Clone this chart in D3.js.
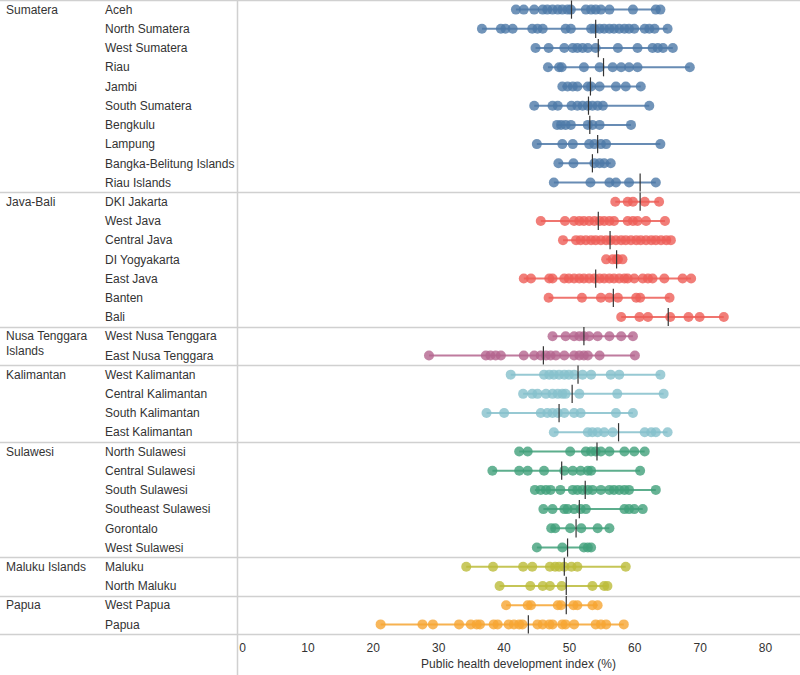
<!DOCTYPE html>
<html>
<head>
<meta charset="utf-8">
<script src="https://cdn.jsdelivr.net/npm/d3@7"></script>
<style>
  body { margin: 0; background: #fff; }
  svg { display: block; font-family: "Liberation Sans", Arial, sans-serif; }
</style>
</head>
<body>
<svg id="chart" width="800" height="675"></svg>
<script>
const regions = ["Sumatera", "Java-Bali", "Nusa Tenggara Islands", "Kalimantan", "Sulawesi", "Maluku Islands", "Papua"];
const regionColors = ["#4e79a7", "#ed5e57", "#b4658e", "#86c0cc", "#41a07a", "#bcbc3a", "#f6a532"];

const provinces = [
  "Aceh", "North Sumatera", "West Sumatera", "Riau", "Jambi", "South Sumatera", "Bengkulu", "Lampung", "Bangka-Belitung Islands", "Riau Islands",
  "DKI Jakarta", "West Java", "Central Java", "DI Yogyakarta", "East Java", "Banten", "Bali",
  "West Nusa Tenggara", "East Nusa Tenggara",
  "West Kalimantan", "Central Kalimantan", "South Kalimantan", "East Kalimantan",
  "North Sulawesi", "Central Sulawesi", "South Sulawesi", "Southeast Sulawesi", "Gorontalo", "West Sulawesi",
  "Maluku", "North Maluku",
  "West  Papua", "Papua"
];
const provinceRegion = [
  0,0,0,0,0,0,0,0,0,0,
  1,1,1,1,1,1,1,
  2,2,
  3,3,3,3,
  4,4,4,4,4,4,
  5,5,
  6,6
];

const districtValues = [
  [41.9, 43.1, 44.7, 46.0, 46.7, 47.5, 48.3, 49.0, 49.8, 50.3, 52.6, 53.4, 54.1, 54.9, 56.2, 59.8, 63.3, 64.0],
  [36.7, 39.6, 40.3, 41.4, 44.4, 45.2, 46.0, 49.5, 50.3, 53.4, 53.9, 54.7, 55.4, 56.2, 56.9, 57.7, 58.5, 59.2, 60.0, 61.6, 62.3, 63.1, 65.1],
  [44.9, 46.9, 49.3, 50.6, 51.3, 52.1, 52.9, 54.1, 57.5, 60.5, 62.8, 63.6, 64.4, 65.9],
  [46.8, 48.5, 48.9, 52.3, 54.7, 56.7, 58.0, 59.2, 60.5, 68.5],
  [49.0, 49.8, 50.6, 51.3, 52.9, 53.4, 54.7, 57.2, 58.7, 61.0],
  [44.7, 47.5, 48.3, 50.4, 51.3, 52.1, 52.9, 53.6, 54.4, 55.2, 62.3],
  [48.2, 48.8, 49.5, 50.3, 52.9, 53.6, 54.7, 59.5],
  [45.1, 49.0, 50.6, 53.1, 53.9, 54.9, 55.7, 64.0],
  [48.4, 50.7, 53.9, 54.7, 55.4, 56.4],
  [47.7, 53.3, 56.2, 57.2, 59.2, 63.3],
  [57.1, 59.0, 59.8, 61.6, 63.8],
  [45.7, 49.4, 50.8, 51.6, 52.3, 53.1, 53.9, 54.7, 55.4, 56.2, 56.9, 59.0, 59.8, 60.5, 61.8, 64.7],
  [49.1, 51.1, 51.8, 52.6, 53.4, 54.1, 54.9, 55.7, 56.4, 57.2, 58.0, 58.7, 59.5, 60.3, 61.0, 61.8, 62.6, 63.3, 64.1, 64.9, 65.6],
  [55.7, 56.7, 57.3, 57.5, 58.2],
  [43.1, 44.2, 47.0, 47.5, 49.3, 50.0, 50.8, 51.6, 52.3, 53.1, 53.9, 54.7, 55.4, 56.2, 56.9, 57.7, 58.5, 59.0, 60.0, 61.3, 62.1, 62.8, 64.6, 67.4, 68.7],
  [46.9, 52.0, 54.9, 56.2, 57.5, 60.3, 60.9, 65.4],
  [58.0, 60.8, 62.1, 65.5, 68.3, 70.0, 73.7],
  [47.5, 49.5, 50.8, 51.6, 52.3, 53.1, 54.4, 56.2, 58.0, 59.8],
  [28.6, 37.3, 38.0, 38.8, 39.6, 43.1, 44.7, 45.7, 46.5, 47.2, 48.0, 49.3, 50.8, 51.6, 52.3, 52.9, 54.7, 60.1],
  [41.1, 46.2, 47.0, 47.7, 48.5, 49.3, 50.0, 50.8, 52.1, 53.4, 56.4, 57.7, 64.0],
  [43.0, 44.4, 45.2, 46.5, 47.5, 48.3, 49.0, 49.5, 51.6, 57.4, 64.5],
  [37.4, 40.1, 45.7, 46.7, 47.5, 48.3, 49.3, 50.8, 51.8, 57.2, 59.8],
  [47.7, 52.9, 53.6, 54.4, 55.4, 56.7, 61.6, 62.6, 63.3, 65.1],
  [42.4, 43.7, 50.2, 52.6, 53.4, 54.1, 54.9, 56.2, 58.5, 60.0, 61.6],
  [38.3, 42.4, 43.7, 46.2, 49.3, 50.6, 51.8, 52.9, 53.4, 60.9],
  [44.8, 45.7, 46.5, 47.2, 48.7, 50.6, 51.3, 52.1, 52.9, 53.6, 54.9, 56.2, 56.9, 57.7, 58.5, 59.2, 63.3],
  [46.1, 47.5, 49.3, 49.8, 50.8, 51.8, 52.6, 58.5, 59.2, 60.0, 61.3],
  [47.3, 47.9, 50.2, 51.9, 54.4, 56.2],
  [45.1, 49.0, 52.3, 52.9, 53.4],
  [34.3, 38.4, 43.0, 44.4, 47.1, 47.9, 48.5, 49.3, 50.4, 51.3, 58.7],
  [39.4, 44.1, 46.0, 47.1, 48.9, 53.6, 55.4, 55.9],
  [40.4, 43.7, 44.2, 48.3, 48.8, 50.7, 51.3, 53.6, 54.4],
  [21.2, 27.6, 29.2, 33.2, 35.0, 35.9, 36.4, 38.5, 39.1, 40.8, 41.6, 42.4, 42.9, 45.2, 46.0, 47.0, 47.5, 49.0, 49.5, 50.8, 54.1, 54.9, 55.7, 58.4]
];

const medianValues = [
  50.4, 54.1, 54.5, 55.3, 53.3, 53.0, 53.2, 54.4, 53.6, 60.9,
  60.9, 54.5, 56.3, 57.3, 54.1, 56.8, 65.2,
  52.3, 46.1,
  51.4, 50.5, 48.5, 57.6,
  54.3, 48.9, 52.5, 51.6, 51.1, 49.8,
  49.3, 49.6,
  49.6, 43.8
];

const xTicks = [0, 10, 20, 30, 40, 50, 60, 70, 80];
const xTitle = "Public health development index (%)";

const svg = d3.select("#chart");
const W = 800, H = 675;
const plotLeft = 237;
const gridColor = "#d0d0d0";
const textColor = "#333";

const x = d3.scaleLinear().domain([0, 80]).range([242, 765]);
const y = d3.scaleBand().domain(d3.range(provinces.length)).range([0, 634]).padding(0);
const bw = y.bandwidth();

const regionStart = regions.map((r, ri) => provinceRegion.indexOf(ri));
const regionEnd = regions.map((r, ri) => provinceRegion.lastIndexOf(ri));

// horizontal separators
const sepYs = [0].concat(regionEnd.map(e => y(e) + bw));
svg.append("g").selectAll("line").data(sepYs).join("line")
  .attr("x1", 0).attr("x2", W)
  .attr("y1", d => Math.round(d) + 0.5).attr("y2", d => Math.round(d) + 0.5)
  .attr("stroke", gridColor).attr("stroke-width", 1.5);

// vertical divider
svg.append("line")
  .attr("x1", plotLeft + 0.5).attr("x2", plotLeft + 0.5)
  .attr("y1", 0).attr("y2", H)
  .attr("stroke", gridColor).attr("stroke-width", 1.5);

// region labels
regions.forEach((r, ri) => {
  const y0 = y(regionStart[ri]) + bw / 2;
  const t = svg.append("text")
    .attr("x", 6).attr("y", y0)
    .attr("dy", "0.35em")
    .attr("font-size", 12).attr("fill", textColor);
  if (r === "Nusa Tenggara Islands") {
    t.append("tspan").attr("x", 6).text("Nusa Tenggara");
    t.append("tspan").attr("x", 6).attr("dy", "1.2em").text("Islands");
  } else {
    t.text(r);
  }
});

// province labels
svg.append("g").selectAll("text").data(provinces).join("text")
  .attr("x", 105)
  .attr("y", (d, i) => y(i) + bw / 2)
  .attr("dy", "0.35em")
  .attr("font-size", 12).attr("fill", textColor)
  .text(d => d);

const rows = provinces.map((p, i) => ({
  i, vals: districtValues[i], color: regionColors[provinceRegion[i]], med: medianValues[i]
}));

const gRows = svg.append("g");
gRows.selectAll("line.range").data(rows).join("line")
  .attr("class", "range")
  .attr("x1", d => x(d3.min(d.vals))).attr("x2", d => x(d3.max(d.vals)))
  .attr("y1", d => y(d.i) + bw / 2).attr("y2", d => y(d.i) + bw / 2)
  .attr("stroke", d => d.color).attr("stroke-width", 2).attr("opacity", 0.85);

rows.forEach(r => {
  gRows.append("g").selectAll("circle").data(r.vals).join("circle")
    .attr("cx", v => x(v))
    .attr("cy", y(r.i) + bw / 2)
    .attr("r", 5)
    .attr("fill", r.color)
    .attr("fill-opacity", 0.8);
});

gRows.selectAll("line.med").data(rows).join("line")
  .attr("class", "med")
  .attr("x1", d => x(d.med)).attr("x2", d => x(d.med))
  .attr("y1", d => y(d.i) + 0.5).attr("y2", d => y(d.i) + bw - 0.5)
  .attr("stroke", "#333").attr("stroke-width", 1.2);

// x axis
const axis = d3.axisBottom(x).tickValues(xTicks).tickSize(0).tickPadding(0);
const gAxis = svg.append("g").attr("transform", "translate(0,643)").call(axis);
gAxis.select(".domain").remove();
gAxis.selectAll("text").attr("font-size", 12).attr("fill", textColor)
  .attr("font-family", "Liberation Sans, Arial, sans-serif");

svg.append("text")
  .attr("x", (plotLeft + W) / 2).attr("y", 668)
  .attr("text-anchor", "middle")
  .attr("font-size", 12).attr("fill", textColor)
  .text(xTitle);
</script>
</body>
</html>
